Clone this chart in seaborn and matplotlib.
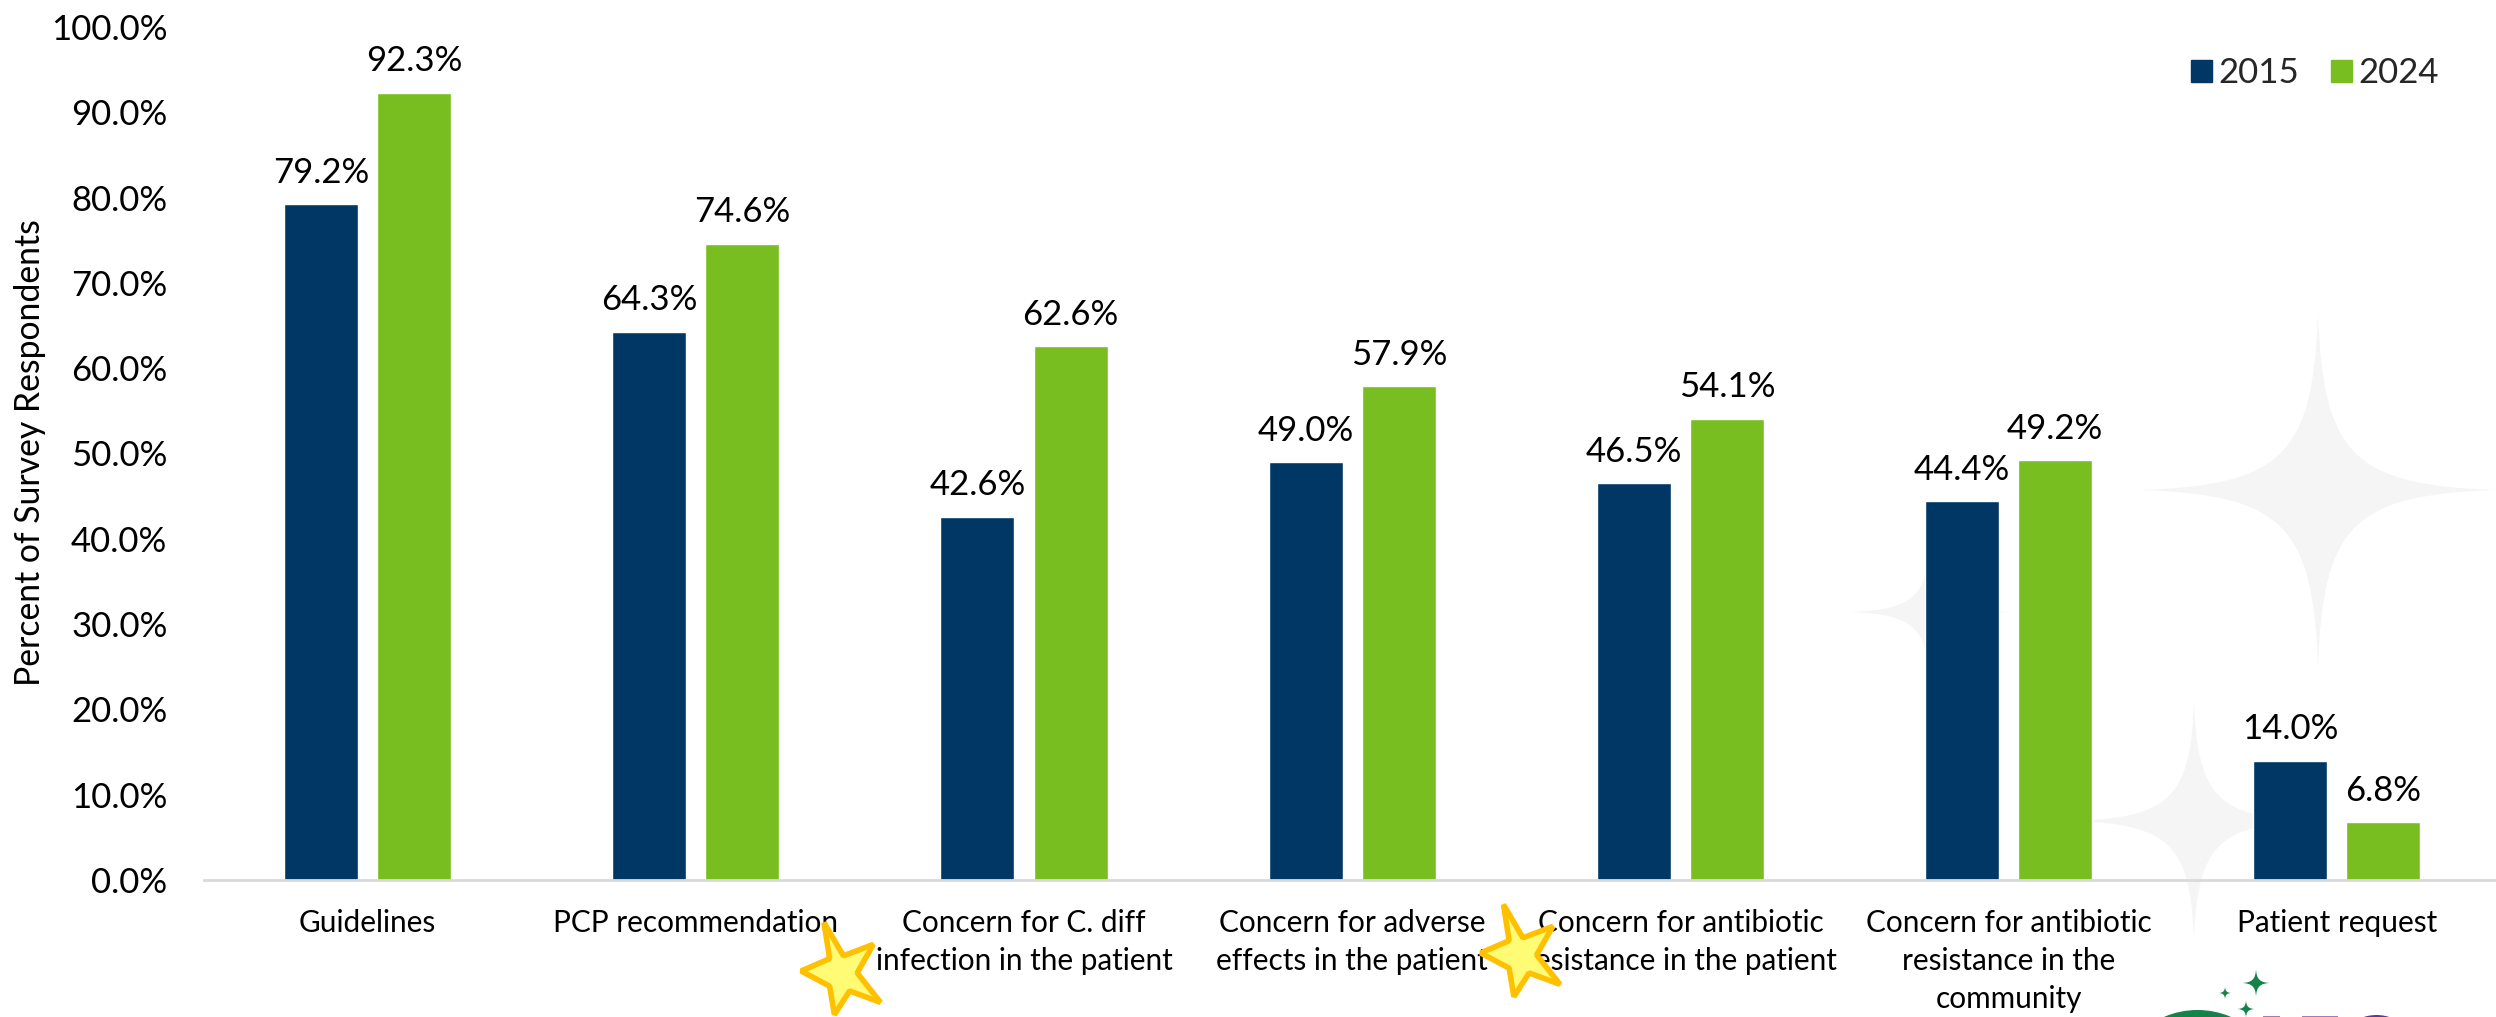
import matplotlib
matplotlib.use("Agg")
import matplotlib.pyplot as plt
from matplotlib.patches import Circle, PathPatch, Polygon
from matplotlib.path import Path
import pandas as pd
import seaborn as sns

W, H = 2496, 1017

categories = [
    "Guidelines",
    "PCP recommendation",
    "Concern for C. diff\ninfection in the patient",
    "Concern for adverse\neffects in the patient",
    "Concern for antibiotic\nresistance in the patient",
    "Concern for antibiotic\nresistance in the\ncommunity",
    "Patient request",
]
values_2015 = [79.2, 64.3, 42.6, 49.0, 46.5, 44.4, 14.0]
values_2024 = [92.3, 74.6, 62.6, 57.9, 54.1, 49.2, 6.8]
years = ["2015", "2024"]
palette = {"2015": "#003764", "2024": "#78BE20"}
y_ticks = list(range(0, 101, 10))

sns.set_theme(style="white")
plt.rcParams["font.family"] = ["Lato", "DejaVu Sans"]

df = pd.DataFrame({
    "category": categories * 2,
    "year": [years[0]] * 7 + [years[1]] * 7,
    "value": values_2015 + values_2024,
})

fig = plt.figure(figsize=(W / 100, H / 100), dpi=100, facecolor="white")
left, right, bottom, top = 203.5, W, 880, 27
ax = fig.add_axes([left / W, 1 - bottom / H, (right - left) / W, (bottom - top) / H])
ax.patch.set_alpha(0)


def to_fig(points):
    return [(x / W, 1 - y / H) for x, y in points]


def sparkle(cx, cy, r, color, zorder=0, body=0.2):
    """Four-pointed star with concave sides, sized in pixels."""
    quad = [(0, 1), (0.03, body), (body, 0.03), (1, 0)]
    verts, codes = [], []
    for sx, sy, swap in [(1, 1, False), (1, -1, True), (-1, -1, False), (-1, 1, True)]:
        seq = quad if not swap else quad[::-1]
        pts = [(cx + sx * a * r, cy - sy * b * r) for a, b in seq]
        if not verts:
            verts.append(pts[0])
            codes.append(Path.MOVETO)
        verts.extend(pts[1:])
        codes.extend([Path.CURVE4] * 3)
    path = Path(to_fig(verts), codes)
    fig.add_artist(PathPatch(path, facecolor=color, edgecolor="none",
                             transform=fig.transFigure, zorder=zorder))


# Pale background sparkles sit behind the transparent axes
for cx, cy, r in [(2318, 490, 176), (2194, 821, 119), (1931, 612, 80)]:
    sparkle(cx, cy, r, "#F5F5F5", zorder=-1)

sns.barplot(data=df, x="category", y="value", hue="year", palette=palette,
            width=0.567, gap=0.205, saturation=1, ax=ax, legend=False)

ax.set_xlim(-0.5, (right - left) / 328.2 - 0.5)
ax.set_ylim(0, 100)
ax.set_yticks(y_ticks)
ax.set_yticklabels([f"{v:.1f}%" for v in y_ticks], fontsize=25, color="black")
ax.tick_params(axis="y", length=0, pad=26)
ax.tick_params(axis="x", length=0, pad=21)
ax.set_xticks(range(len(categories)))
ax.set_xticklabels(categories, fontsize=21.4, color="black", linespacing=1.43)
ax.set_xlabel("")
ax.set_ylabel("")
fig.text(30 / W, 1 - 453 / H, "Percent of Survey Respondents", rotation=90,
         fontsize=24.3, color="black", ha="center", va="center")

for side in ("top", "right", "left"):
    ax.spines[side].set_visible(False)
ax.spines["bottom"].set_color("#D9D9D9")
ax.spines["bottom"].set_linewidth(2)

for container in ax.containers:
    ax.bar_label(container, fmt="%.1f%%", fontsize=25, color="black", padding=11)

handles = [plt.Rectangle((0, 0), 1, 1, color=palette[y]) for y in years]
fig.legend(handles, years, loc="center right", bbox_to_anchor=(2439 / W, 1 - 73 / H),
           ncol=2, frameon=False, fontsize=25, handlelength=0.6, handleheight=0.6,
           handletextpad=0.19, columnspacing=0.92, borderpad=0, borderaxespad=0)

# Highlight stars over the axis labels; rounded corners keep the tips short
star_shape = [(823, 920), (843.5, 955), (875, 943), (858, 973), (882.5, 1004),
              (850, 992), (834, 1017), (829, 987), (799, 971), (829, 958)]
star_cx, star_cy, star_scale = 842, 971, 0.95
for dx, dy in [(0, 0), (679.5, -18)]:
    pts = [(star_cx + (x - star_cx) * star_scale + dx, star_cy + (y - star_cy) * star_scale + dy)
           for x, y in star_shape]
    fig.add_artist(Polygon(to_fig(pts), closed=True, facecolor="#FFFB74", edgecolor="#FFC000",
                           linewidth=4.0, joinstyle="bevel", transform=fig.transFigure, zorder=10))

# Corner logo, cut by the edge of the figure
for cx, cy, r in [(2256, 983, 14), (2225, 993, 6.5), (2246, 1009, 9)]:
    sparkle(cx, cy, r, "#14834A", zorder=10, body=0.28)

logo_overlay = fig.add_axes([0, 0, 1, 1], zorder=9)
logo_overlay.set_xlim(0, W)
logo_overlay.set_ylim(H, 0)
logo_overlay.set_aspect("equal")
logo_overlay.axis("off")
logo_overlay.patch.set_alpha(0)
logo_overlay.add_patch(Circle((2197.5, 1095), 85, facecolor="#14834A", edgecolor="none"))
logo_overlay.add_patch(Circle((2376.5, 1057), 42, facecolor="#5B3A96", edgecolor="none"))
for x0, x1 in [(2263, 2280), (2302, 2338)]:
    logo_overlay.fill_between([x0, x1], 1015.5, 1017, color="#9B7FB8", linewidth=0)

fig.savefig("out.png", dpi=100)
